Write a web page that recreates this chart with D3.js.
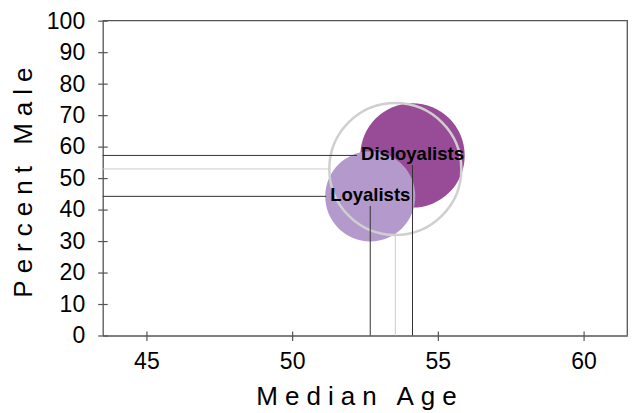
<!DOCTYPE html>
<html>
<head>
<meta charset="utf-8">
<script src="https://cdn.jsdelivr.net/npm/d3@7"></script>
<style>
body { margin: 0; background: #fff; }
text { font-family: "Liberation Sans", Arial, sans-serif; }
.tick text { font-size: 23px; }
</style>
</head>
<body>
<div id="chart"></div>
<script>
// bubble groups
var groups = ["Disloyalists", "Loyalists"];
var medianAge = [54.13, 52.68];
var percentMale = [57.2, 44.2];
var groupSize = [55, 41];
var groupColor = ["#984c98", "#b399cc"];

// all respondents (grey ring)
var allAge = 53.54;
var allMale = 52.9;
var allSize = 88;

var xTicks = [45, 50, 55, 60];
var yTicks = [0, 10, 20, 30, 40, 50, 60, 70, 80, 90, 100];

var svgWidth = 633;
var svgHeight = 413;
var margin = { top: 20.7, right: 5.7, bottom: 77.5, left: 102.7 };
var width = svgWidth - margin.left - margin.right;
var height = svgHeight - margin.top - margin.bottom;

var svg = d3.select("#chart")
            .append("svg")
            .attr("width", svgWidth)
            .attr("height", svgHeight);

var chart = svg.append("g").attr("transform", `translate(${margin.left}, ${margin.top})`);

var xScale = d3.scaleLinear().domain([43.5, 61.5]).range([0, width]);
var yScale = d3.scaleLinear().domain([0, 100]).range([height, 0]);
var rScale = d3.scaleSqrt().domain([0, allSize]).range([0, 66]);

var axisColor = "#555";

// frame (top and right)
chart.append("path")
     .attr("d", `M0,0H${width}V${height}`)
     .attr("fill", "none")
     .attr("stroke", axisColor)
     .attr("stroke-width", 1.3);

var xAxis = d3.axisBottom(xScale).tickValues(xTicks).tickSizeInner(5).tickSizeOuter(0).tickPadding(12);
var yAxis = d3.axisLeft(yScale).tickValues(yTicks).tickSizeInner(4.5).tickSizeOuter(0).tickPadding(13);

var gx = chart.append("g").attr("transform", `translate(0, ${height})`).call(xAxis);
var gy = chart.append("g").call(yAxis);

[gx, gy].forEach(function(g) {
    g.attr("font-size", 23).attr("font-family", "'Liberation Sans', Arial, sans-serif");
    g.select(".domain").attr("stroke", axisColor).attr("stroke-width", 1.3);
    g.selectAll(".tick line").attr("stroke", axisColor).attr("stroke-width", 1.2);
    g.selectAll(".tick text").attr("fill", "#000").attr("font-size", 23);
});
// ticks cross the axis
gx.selectAll(".tick line").attr("y1", -4).attr("y2", 5.5);
gy.selectAll(".tick line").attr("x1", 5).attr("x2", -4.5);
gy.selectAll(".tick text").attr("x", -17.5);

// axis titles
chart.append("text")
     .attr("x", width / 2 - 5)
     .attr("y", height + 70)
     .attr("text-anchor", "middle")
     .style("font-size", "26px")
     .style("letter-spacing", "7px")
     .text("Median Age");

chart.append("text")
     .attr("transform", `translate(${32 - margin.left}, ${height / 2 + 1}) rotate(-90)`)
     .attr("text-anchor", "middle")
     .style("font-size", "26px")
     .style("letter-spacing", "7px")
     .text("Percent Male");

var bubbleLayer = chart.append("g");
var lineLayer = chart.append("g");
var labelLayer = chart.append("g");

// bubbles
groups.forEach(function(name, i) {
    bubbleLayer.append("circle")
         .attr("cx", xScale(medianAge[i]))
         .attr("cy", yScale(percentMale[i]))
         .attr("r", rScale(groupSize[i]))
         .attr("fill", groupColor[i]);
});

bubbleLayer.append("circle")
     .attr("cx", xScale(allAge))
     .attr("cy", yScale(allMale))
     .attr("r", rScale(allSize))
     .attr("fill", "none")
     .attr("stroke", "#cfcfcf")
     .attr("stroke-width", 2.5);

// grey drop lines to the ring edge
var allR = rScale(allSize);
lineLayer.append("line")
     .attr("x1", 0).attr("x2", xScale(allAge) - allR)
     .attr("y1", yScale(allMale)).attr("y2", yScale(allMale))
     .attr("stroke", "#cccccc").attr("stroke-width", 1);
lineLayer.append("line")
     .attr("x1", xScale(allAge)).attr("x2", xScale(allAge))
     .attr("y1", yScale(allMale) + allR).attr("y2", height)
     .attr("stroke", "#cccccc").attr("stroke-width", 1);

// labels and drop lines to them
groups.forEach(function(name, i) {
    var cx = xScale(medianAge[i]);
    var cy = yScale(percentMale[i]);
    var label = labelLayer.append("text")
         .attr("x", cx)
         .attr("y", cy)
         .attr("dy", "0.25em")
         .attr("text-anchor", "middle")
         .style("font-size", "18.5px")
         .style("font-weight", "bold")
         .text(name);
    var bb = label.node().getBBox();
    lineLayer.append("line")
         .attr("x1", 0).attr("x2", bb.x - 4)
         .attr("y1", cy).attr("y2", cy)
         .attr("stroke", "#333").attr("stroke-width", 1);
    lineLayer.append("line")
         .attr("x1", cx).attr("x2", cx)
         .attr("y1", bb.y + bb.height + 1).attr("y2", height)
         .attr("stroke", "#333").attr("stroke-width", 1);
});
</script>
</body>
</html>
